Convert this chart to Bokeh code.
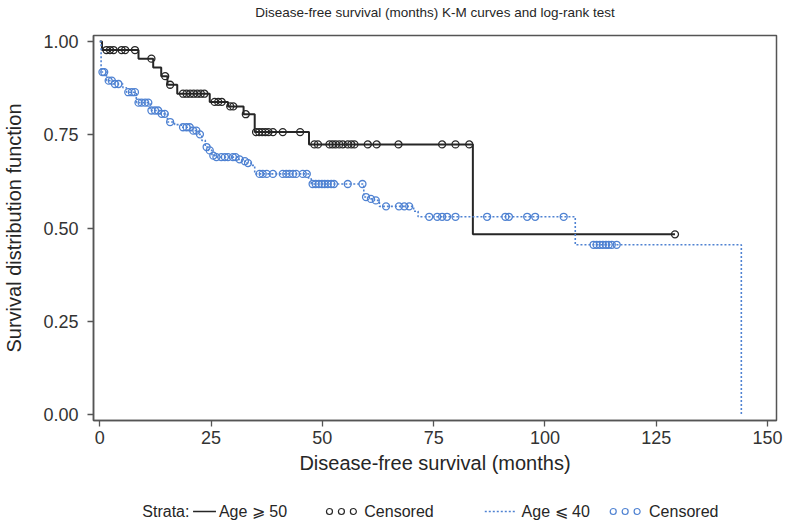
import numpy as np
from bokeh.plotting import figure
from bokeh.models import Range1d, FixedTicker, NumeralTickFormatter
from bokeh.layouts import column
from bokeh.embed import file_html
from bokeh.resources import INLINE
from bokeh.core.properties import value

# ---------------- data ----------------
# Age >= 50 : event times and survival after each event
old_event_t = [0.5, 8.7, 12.0, 13.8, 15.2, 17.4, 24.7, 28.8, 32.3, 34.8, 47.0, 83.8]
old_event_s = [0.977, 0.954, 0.930, 0.907, 0.884, 0.860, 0.838, 0.826, 0.805, 0.757, 0.724, 0.483]
old_end_t = 129.2
old_cens_t = [1.5, 2.3, 3.1, 4.9, 5.7, 7.9, 11.6, 14.7, 15.8, 18.7, 19.5, 20.3, 21.1, 21.9,
              22.7, 23.5, 25.8, 26.6, 27.4, 29.3, 30.0, 32.8, 35.1, 35.8, 36.5, 37.2, 37.9,
              38.9, 41.1, 45.0, 48.2, 49.0, 51.6, 52.3, 53.0, 53.8, 54.6, 55.7, 56.5, 57.2,
              60.2, 62.2, 67.1, 76.9, 79.9, 83.0, 129.2]

# Age <= 40
young_event_t = [0.3, 1.5, 3.0, 5.2, 6.0, 8.2, 11.3, 13.5, 15.2, 16.8, 18.3, 20.6, 22.2, 22.9,
                 23.7, 24.4, 25.2, 26.0, 31.0, 32.2, 33.0, 34.0, 34.8, 46.9, 47.5, 59.3, 60.5,
                 61.7, 62.8, 70.5, 71.5, 106.8, 144.1]
young_event_s = [0.918, 0.895, 0.886, 0.876, 0.864, 0.836, 0.815, 0.806, 0.784, 0.777, 0.770,
                 0.761, 0.751, 0.735, 0.717, 0.708, 0.694, 0.690, 0.684, 0.679, 0.674, 0.668,
                 0.645, 0.632, 0.618, 0.583, 0.578, 0.574, 0.558, 0.545, 0.530, 0.455, 0.0]
young_cens_t = [0.6, 1.0, 2.0, 2.7, 3.4, 4.2, 6.4, 7.2, 7.9, 8.7, 9.4, 10.2, 10.9, 11.6, 12.4,
                13.1, 13.9, 14.6, 15.8, 18.7, 19.5, 20.2, 21.0, 21.7, 22.5, 24.0, 24.7, 25.5,
                26.2, 27.3, 28.1, 28.8, 29.9, 30.5, 31.4, 32.6, 33.3, 35.9, 36.6, 37.5, 38.9,
                41.1, 41.9, 42.6, 43.4, 44.1, 45.6, 46.5, 47.8, 48.5, 49.2, 49.9, 50.5, 51.2,
                52.0, 52.6, 55.7, 59.0, 59.8, 60.9, 62.0, 64.3, 67.2, 68.4, 69.5, 74.0, 75.8,
                76.9, 78.0, 79.9, 87.0, 91.1, 91.9, 96.0, 97.8, 104.2, 110.9, 111.6, 112.3,
                113.0, 113.7, 114.3, 115.0, 116.1]

x_ticks = [0, 25, 50, 75, 100, 125, 150]
y_ticks = [0.0, 0.25, 0.50, 0.75, 1.00]

title_text = "Disease-free survival (months) K-M curves and log-rank test"
x_label = "Disease-free survival (months)"
y_label = "Survival distribution function"
legend_title = "Strata:"
legend_labels = ["Age \u2a7e 50", "Censored", "Age \u2a7d 40", "Censored"]

BLACK = "#262626"
BLUE = "#4f82d2"
TXT = "#262626"
FONT = "Liberation Sans"


def surv_at(times, ev_t, ev_s):
    ev_t = np.asarray(ev_t)
    ev_s = np.asarray(ev_s)
    out = []
    for t in times:
        idx = np.searchsorted(ev_t, t, side="right") - 1
        out.append(1.0 if idx < 0 else float(ev_s[idx]))
    return out


def strip(height):
    f = figure(width=W, height=height, output_backend="svg", toolbar_location=None,
               x_range=Range1d(FL, FR), y_range=Range1d(0, height),
               min_border_left=FL, min_border_right=W - FR,
               min_border_top=0, min_border_bottom=0)
    f.axis.visible = False
    f.grid.visible = False
    f.outline_line_color = None
    f.border_fill_color = "white"
    return f


W = 785
FL, FR = 90, 776          # frame left / right (px)

# ---------------- title strip ----------------
TH = 24
ttl = strip(TH)
ttl.text(x=[(FL + FR) / 2], y=[TH - 12], text=[title_text], text_font=value(FONT),
         text_font_size="13.5px", text_baseline="middle", text_align="center", text_color=TXT)

# ---------------- main figure ----------------
p = figure(width=W, height=476, output_backend="svg", toolbar_location=None,
           x_range=Range1d(-1.41, 152.0), y_range=Range1d(-0.016, 1.016),
           min_border_left=FL, min_border_right=W - FR, min_border_top=11, min_border_bottom=80)

p.grid.visible = False
p.outline_line_color = "#555555"
p.outline_line_width = 1.5
p.background_fill_color = "white"
p.border_fill_color = "white"

# curves
old_x = [0.0] + old_event_t + [old_end_t]
old_y = [1.0] + old_event_s + [old_event_s[-1]]
p.step(old_x, old_y, mode="after", line_color=BLACK, line_width=2)
young_x = [0.0] + young_event_t
young_y = [1.0] + young_event_s
p.step(young_x, young_y, mode="after", line_color=BLUE, line_width=1.6, line_dash="2 2")

# censored marks
p.scatter(old_cens_t, surv_at(old_cens_t, old_event_t, old_event_s), marker="circle",
          size=7, fill_color=None, line_color=BLACK, line_width=1.3)
p.scatter(young_cens_t, surv_at(young_cens_t, young_event_t, young_event_s), marker="circle",
          size=7, fill_color=None, line_color=BLUE, line_width=1.3)

for ax in (p.xaxis[0], p.yaxis[0]):
    ax.axis_line_color = "#555555"
    ax.axis_line_width = 1.5
    ax.major_tick_line_color = "#555555"
    ax.major_tick_line_width = 1.3
    ax.major_tick_out = 6
    ax.major_tick_in = 0
    ax.minor_tick_line_color = None
    ax.major_label_text_font = FONT
    ax.major_label_text_font_size = "18px"
    ax.major_label_text_color = "#333333"
    ax.axis_label_text_font = FONT
    ax.axis_label_text_font_size = "20px"
    ax.axis_label_text_font_style = "normal"
    ax.axis_label_text_color = TXT

p.xaxis.ticker = FixedTicker(ticks=x_ticks)
p.yaxis.ticker = FixedTicker(ticks=y_ticks)
p.yaxis.formatter = NumeralTickFormatter(format="0.00")
p.xaxis.axis_label = x_label
p.yaxis.axis_label = y_label
p.xaxis.major_label_standoff = 4
p.xaxis.axis_label_standoff = 5
p.yaxis.major_label_standoff = 9
p.yaxis.axis_label_standoff = 15

# ---------------- legend strip (x in page pixels) ----------------
LH = 22
leg = strip(LH)
ty = 11
txt_kw = dict(text_font=value(FONT), text_font_size="16px", text_baseline="middle",
              text_align="left", text_color=TXT)
leg.text(x=[139], y=[ty], text=[legend_title], **txt_kw)
leg.line(x=[190, 213], y=[ty, ty], line_color=BLACK, line_width=1.5)
leg.text(x=[216], y=[ty], text=[legend_labels[0]], **txt_kw)
leg.scatter(x=[327, 339, 351], y=[ty] * 3, marker="circle", size=6, fill_color=None,
            line_color=BLACK, line_width=1.2)
leg.text(x=[362], y=[ty], text=[legend_labels[1]], **txt_kw)
leg.line(x=[483, 515], y=[ty, ty], line_color=BLUE, line_width=1.5, line_dash="2 2")
leg.text(x=[520], y=[ty], text=[legend_labels[2]], **txt_kw)
leg.scatter(x=[612, 624, 636], y=[ty] * 3, marker="circle", size=6, fill_color=None,
            line_color=BLUE, line_width=1.2)
leg.text(x=[648], y=[ty], text=[legend_labels[3]], **txt_kw)

layout = column(ttl, p, leg, spacing=0)
open("out.html", "w").write(file_html(layout, INLINE))
